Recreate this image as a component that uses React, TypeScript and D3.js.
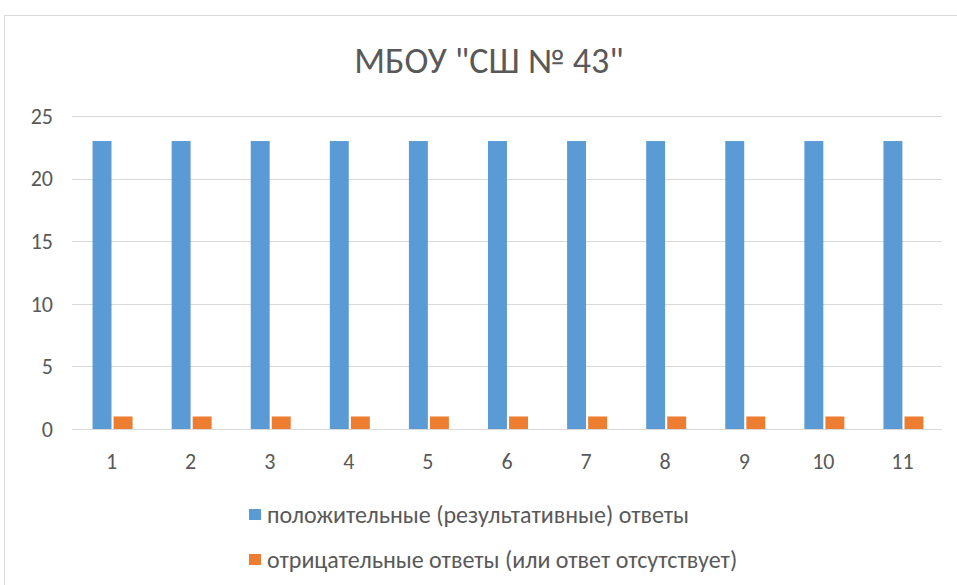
import React, { useEffect, useRef } from 'react';
import * as d3 from 'd3';

const categories = ['1', '2', '3', '4', '5', '6', '7', '8', '9', '10', '11'];
const positive = [23, 23, 23, 23, 23, 23, 23, 23, 23, 23, 23];
const negative = [1, 1, 1, 1, 1, 1, 1, 1, 1, 1, 1];
const seriesNames = [
  'положительные (результативные) ответы',
  'отрицательные ответы (или ответ отсутствует)',
];
const colors = ['#5b9bd5', '#ed7d31'];
const yTicks = [0, 5, 10, 15, 20, 25];

const App = () => {
  const ref = useRef<SVGSVGElement>(null);

  useEffect(() => {
    const svg = d3.select(ref.current);
    svg.selectAll('*').remove();

    const width = 957;
    const height = 585;
    const left = 72;
    const right = 942;
    const top = 116;
    const bottom = 429;
    const font = "Carlito, 'Open Sans', 'Noto Sans', sans-serif";
    const textColor = '#595959';

    // chart frame
    svg.append('rect')
      .attr('x', 4.5).attr('y', 15.5)
      .attr('width', width + 10).attr('height', height + 10)
      .attr('fill', '#fff').attr('stroke', '#d9d9d9');

    const x = d3.scaleBand().domain(categories).range([left, right]).padding(0);
    const y = d3.scaleLinear().domain([0, 25]).range([bottom, top]);

    // gridlines
    svg.append('g')
      .selectAll('line')
      .data(yTicks)
      .enter()
      .append('line')
      .attr('x1', left).attr('x2', right)
      .attr('y1', d => Math.round(y(d)) + 0.5)
      .attr('y2', d => Math.round(y(d)) + 0.5)
      .attr('stroke', '#d9d9d9')
      .attr('stroke-width', 1);

    // y labels
    svg.append('g')
      .selectAll('text')
      .data(yTicks)
      .enter()
      .append('text')
      .attr('x', 53)
      .attr('y', d => y(d))
      .attr('dy', '0.35em')
      .attr('text-anchor', 'end')
      .attr('font-family', font)
      .attr('font-size', 22)
      .attr('fill', textColor)
      .text(d => d);

    // x labels
    svg.append('g')
      .selectAll('text')
      .data(categories)
      .enter()
      .append('text')
      .attr('x', d => (x(d) as number) + x.bandwidth() / 2)
      .attr('y', 461)
      .attr('dy', '0.35em')
      .attr('text-anchor', 'middle')
      .attr('font-family', font)
      .attr('font-size', 22)
      .attr('fill', textColor)
      .text(d => d);

    const inner = d3.scaleBand()
      .domain(['0', '1'])
      .range([0, 40])
      .paddingInner(0.1);
    const groupOffset = (x.bandwidth() - 40) / 2 + 1;

    [positive, negative].forEach((vals, si) => {
      svg.append('g')
        .selectAll('rect')
        .data(vals)
        .enter()
        .append('rect')
        .attr('x', (d, i) => (x(categories[i]) as number) + groupOffset + (inner(String(si)) as number))
        .attr('width', inner.bandwidth())
        .attr('y', d => y(d))
        .attr('height', d => bottom - y(d))
        .attr('fill', colors[si]);
    });

    // title
    svg.append('text')
      .attr('x', 489)
      .attr('y', 60)
      .attr('dy', '0.35em')
      .attr('text-anchor', 'middle')
      .attr('font-family', font)
      .attr('font-size', 36)
      .attr('fill', textColor)
      .text('МБОУ "СШ № 43"');

    // legend
    const legend = svg.append('g');
    seriesNames.forEach((name, i) => {
      const ly = 515 + i * 45;
      legend.append('rect')
        .attr('x', 249).attr('y', ly - 6)
        .attr('width', 12).attr('height', 11)
        .attr('fill', colors[i]);
      legend.append('text')
        .attr('x', 267).attr('y', ly)
        .attr('dy', '0.35em')
        .attr('font-family', font)
        .attr('font-size', 24)
        .attr('fill', textColor)
        .text(name);
    });
  }, []);

  return (
    <svg
      ref={ref}
      width={957}
      height={585}
      style={{ position: 'absolute', left: 0, top: 0 }}
    />
  );
};

export default App;
